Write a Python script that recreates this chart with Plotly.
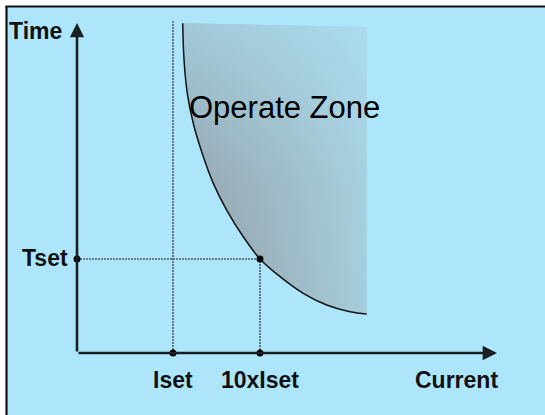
import plotly.graph_objects as go

# ---- data (logical units: current in multiples of Iset-spacing, time in Tset units) ----
curve_current = [1.101, 1.115, 1.149, 1.211, 1.316, 1.420, 1.559, 1.732, 1.906, 2.115, 2.357, 2.601, 2.844, 3.018]
curve_time    = [3.507, 3.117, 2.763, 2.444, 2.088, 1.805, 1.521, 1.237, 1.000, 0.812, 0.635, 0.511, 0.439, 0.415]
zone_top_time = [3.507, 3.468]          # top edge of the shaded operate zone (left, right)
iset = 1.0
ten_iset = 1.906
tset = 1.0
axis_end_current = 4.375
axis_end_time = 3.51
iset_line_top = 3.53

axis_labels = ["Iset", "10xIset", "Current"]
axis_label_x = [iset, ten_iset, 3.948]
time_labels = ["Time", "Tset"]
time_label_x = [-0.4375, -0.333]
time_label_y = [3.426, 1.01]

BG = "#ADE6FB"
LABEL_FONT = dict(family="Liberation Sans, Arial, sans-serif", size=23, color="#111111")

fig = go.Figure()

# shaded operate zone (horizontal gradient)
zone_x = curve_current + [curve_current[-1], curve_current[0]]
zone_y = curve_time + [zone_top_time[1], zone_top_time[0]]
fig.add_trace(go.Scatter(
    x=zone_x, y=zone_y, mode="lines", line=dict(width=0), fill="toself",
    fillgradient=dict(type="horizontal",
                      colorscale=[[0, "rgb(146,158,166)"], [0.5, "rgb(156,180,190)"], [1, "rgb(166,206,220)"]]),
    hoverinfo="skip", showlegend=False))
# vertical overlay to lighten the top
fig.add_trace(go.Scatter(
    x=zone_x, y=zone_y, mode="lines", line=dict(width=0), fill="toself",
    fillgradient=dict(type="vertical",
                      colorscale=[[0, "rgba(173,230,251,0.0)"], [0.45, "rgba(173,230,251,0.12)"], [1, "rgba(173,230,251,0.6)"]]),
    hoverinfo="skip", showlegend=False))

# dotted guide lines
dot = dict(color="#4f5f68", width=1.6, dash="2px,1px")
fig.add_trace(go.Scatter(x=[iset, iset], y=[0, iset_line_top], mode="lines", line=dot, hoverinfo="skip", showlegend=False))
fig.add_trace(go.Scatter(x=[0, ten_iset], y=[tset, tset], mode="lines", line=dot, hoverinfo="skip", showlegend=False))
fig.add_trace(go.Scatter(x=[ten_iset, ten_iset], y=[0, tset], mode="lines", line=dot, hoverinfo="skip", showlegend=False))

# curve
fig.add_trace(go.Scatter(x=curve_current, y=curve_time, mode="lines",
                         line=dict(color="#111111", width=1.5, shape="spline"),
                         hoverinfo="skip", showlegend=False))

# axes with arrows
fig.add_annotation(x=axis_end_current, y=0, ax=0, ay=0, axref="x", ayref="y", xref="x", yref="y",
                   showarrow=True, arrowhead=2, arrowsize=1.1, arrowwidth=2.6, arrowcolor="#1a1f22", text="")
fig.add_annotation(x=0, y=axis_end_time, ax=0, ay=0, axref="x", ayref="y", xref="x", yref="y",
                   showarrow=True, arrowhead=2, arrowsize=1.1, arrowwidth=2.6, arrowcolor="#1a1f22", text="")

# dots
fig.add_trace(go.Scatter(x=[0, iset, ten_iset, ten_iset], y=[tset, 0, 0, tset], mode="markers",
                         marker=dict(color="#000000", size=7), hoverinfo="skip", showlegend=False))

# labels
for lab, xv in zip(axis_labels, axis_label_x):
    fig.add_annotation(x=xv, y=-0.287, text="<b>%s</b>" % lab, showarrow=False, font=LABEL_FONT,
                       xanchor="center", yanchor="middle")
for lab, xv, yv in zip(time_labels, time_label_x, time_label_y):
    fig.add_annotation(x=xv, y=yv, text="<b>%s</b>" % lab, showarrow=False, font=LABEL_FONT,
                       xanchor="center", yanchor="middle")
fig.add_annotation(x=2.161, y=2.61, text="Operate Zone", showarrow=False,
                   font=dict(family="Liberation Sans, Arial, sans-serif", size=31, color="#000000"),
                   xanchor="center", yanchor="middle")

# background panel and border
fig.update_layout(
    width=545, height=415, margin=dict(l=0, r=0, t=0, b=0),
    paper_bgcolor="white", plot_bgcolor="rgba(0,0,0,0)",
    xaxis=dict(range=[-77/96, 468/96], visible=False, fixedrange=True),
    yaxis=dict(range=[-62/94, 353/94], visible=False, fixedrange=True),
    hovermode=False,
    shapes=[
        dict(type="rect", xref="paper", yref="paper", x0=6.5/545, x1=1, y0=0, y1=1-6.5/415,
             fillcolor=BG, line=dict(width=0), layer="below"),
        dict(type="line", xref="paper", yref="paper", x0=6.5/545, x1=6.5/545, y0=0, y1=1-6.5/415,
             line=dict(color="#111111", width=2.2), layer="below"),
        dict(type="line", xref="paper", yref="paper", x0=5.4/545, x1=1, y0=1-6.5/415, y1=1-6.5/415,
             line=dict(color="#111111", width=2.2), layer="below"),
    ],
)

fig.write_html("out.html", config={"displayModeBar": False, "staticPlot": True},
               post_script="document.body.style.margin='0';document.body.style.overflow='hidden';")
